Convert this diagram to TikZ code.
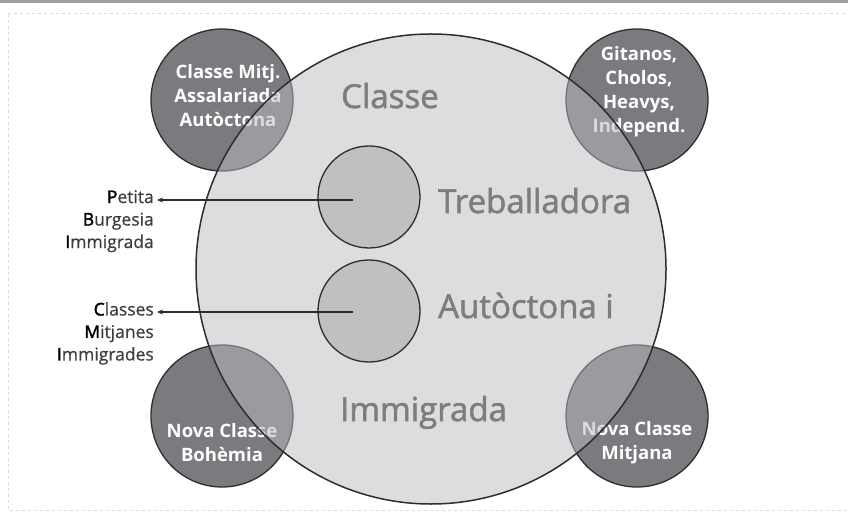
\documentclass[tikz,border=0pt]{standalone}
\usepackage{fontspec}
\setmainfont{Open Sans}
\newfontfamily\heavyish{Open Sans}[FakeBold=1.6]
\newfontfamily\labelfam{Open Sans}[FakeBold=0.6]
\newfontfamily\flfam{Open Sans}[FakeBold=2]
\usetikzlibrary{arrows.meta}
\definecolor{darkc}{RGB}{122,123,126}
\definecolor{bigc}{RGB}{186,187,190}
\definecolor{innerc}{RGB}{192,192,194}
\definecolor{bigtext}{RGB}{125,125,127}
\definecolor{edgec}{RGB}{45,45,45}
\definecolor{lbltext}{RGB}{60,60,60}
\tikzset{
  smallcirc/.style={circle, fill=darkc, draw=edgec, line width=1.3pt, minimum size=142pt, inner sep=0pt},
  bigcirc/.style={circle, minimum size=470pt, inner sep=0pt},
  innercirc/.style={circle, fill=innerc, draw=edgec, line width=1.3pt, minimum size=102pt, inner sep=0pt},
  smalltext/.style={text=white, align=center, font=\fontsize{18.5}{24}\selectfont\bfseries, inner sep=0pt},
  bigword/.style={text=bigtext, font=\heavyish\fontsize{33}{38}\selectfont, anchor=base west, inner sep=0pt},
  lbl/.style={text=lbltext, align=right, font=\labelfam\fontsize{17.5}{22.5}\selectfont, inner sep=0pt},
  conn/.style={draw=edgec, line width=1.1pt, -{Stealth[length=6pt,width=5pt]}}
}
\newcommand{\fl}[1]{\textcolor{black}{\flfam #1}}
\begin{document}
\begin{tikzpicture}[x=1pt,y=-1pt]
\useasboundingbox (0,0) rectangle (848,518);
% top bar
\fill[gray!75] (0,0) rectangle (848,3);
% dotted frame
\draw[black!14, line width=1pt, dash pattern=on 3pt off 3pt] (8,14) -- (8,510) -- (852,510);
\draw[black!14, line width=1pt, dash pattern=on 3pt off 3pt] (8,14) -- (852,14);
% small circles
\node[smallcirc] (tl) at (222,100) {};
\node[smallcirc] (tr) at (637,100) {};
\node[smallcirc] (bl) at (222,416) {};
\node[smallcirc] (br) at (637,416) {};
\node[smalltext] (tltext) at (228,96) {Classe Mitj.\\Assalariada\\Autòctona};
\node[smalltext] (trtext) at (639,92) {Gitanos,\\Cholos,\\Heavys,\\Independ.};
\node[smalltext] (bltext) at (222,443) {Nova Classe\\Bohèmia};
\node[smalltext] (brtext) at (637,443) {Nova Classe\\Mitjana};
% big circle
\node[bigcirc, fill=bigc, fill opacity=0.5] (big) at (431,269) {};
\draw[edgec, line width=1.5pt] (big.center) circle (235pt);
% inner circles
\node[innercirc] (in1) at (369,197) {};
\node[innercirc] (in2) at (369,311) {};
% big words
\node[bigword] (w1) at (341,108) {Classe};
\node[bigword] (w2) at (438,213) {Treballadora};
\node[bigword] (w3) at (438,318) {Autòctona i};
\node[bigword] (w4) at (340,421) {Immigrada};
% labels
\node[lbl, anchor=north east] (l1) at (154,190) {\fl{P}etita\\\fl{B}urgesia\\\fl{I}mmigrada};
\node[lbl, anchor=north east] (l2) at (154,302) {\fl{C}lasses\\\fl{M}itjanes\\\fl{I}mmigrades};
\coordinate (s1) at (353,200);
\coordinate (s2) at (353,312);
\coordinate (t1) at (157,200);
\coordinate (t2) at (157,312);
\draw[conn] (s1) -- (t1);
\draw[conn] (s2) -- (t2);
\end{tikzpicture}
\end{document}
